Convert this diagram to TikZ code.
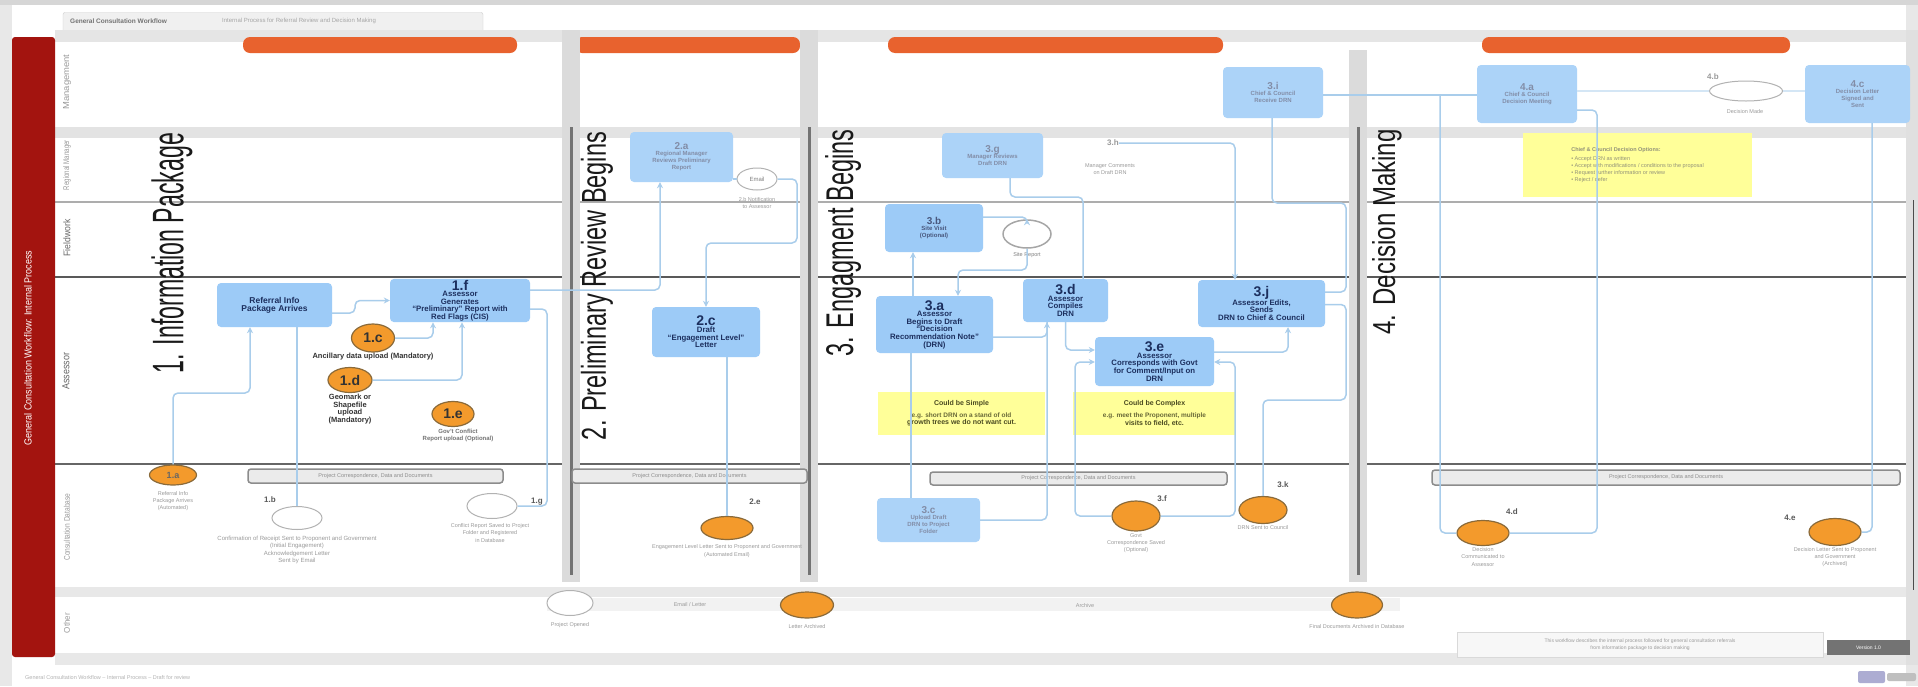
\documentclass[tikz,border=0pt]{standalone}
\usepackage{fontspec}
\setmainfont{Liberation Sans}
\setsansfont{Liberation Sans}
\usepackage{graphicx}
\usetikzlibrary{shapes.geometric,arrows.meta}
\definecolor{boxblue}{HTML}{9DCBF7}
\definecolor{boxtext}{HTML}{1C2F5E}
\definecolor{lineblue}{HTML}{A9CDEB}
\definecolor{orng}{HTML}{F39A2C}
\definecolor{orngdark}{HTML}{8A6A3A}
\definecolor{barorange}{HTML}{E8622E}
\definecolor{note}{HTML}{FFFF99}
\definecolor{notetext}{HTML}{4A4A20}
\definecolor{notebody}{HTML}{6A6A38}
\definecolor{redbar}{HTML}{A3140F}
\definecolor{blur}{HTML}{9A9A9A}
\definecolor{bgc}{HTML}{E8E8E8}
\newcommand{\boxhd}[1]{{\fontsize{14}{14}\selectfont #1}\\[-1pt]}
\newcommand{\boxhs}[1]{{\fontsize{10}{10}\selectfont #1}\\[-1pt]}
\begin{document}
\begin{tikzpicture}[x=1pt,y=-1pt,
  proc/.style={rectangle, rounded corners=4pt, fill=boxblue, text=boxtext, align=center, inner sep=1pt, font=\bfseries\fontsize{7.8}{7.6}\selectfont},
  procb/.style={proc, fill=boxblue!85, text=boxtext!55, font=\bfseries\fontsize{6}{7}\selectfont},
  sz/.style 2 args={minimum width=#1, minimum height=#2},
  oell/.style={ellipse, fill=orng, draw=orngdark, line width=1.2pt, inner sep=0pt, text=black!80, font=\bfseries\fontsize{14}{14}\selectfont},
  well/.style={ellipse, fill=white, draw=black!30, line width=1pt, inner sep=0pt, text=black!50, font=\fontsize{6}{6}\selectfont},
  conn/.style={draw=lineblue, line width=1.5pt, rounded corners=5pt},
  arr/.style={conn, -{Stealth[length=6pt,width=6pt]}},
  lbl/.style={align=center, inner sep=0pt, text=black!80, font=\bfseries\fontsize{7.5}{7.4}\selectfont},
  blurtxt/.style={align=center, inner sep=0pt, text=blur, font=\fontsize{5.5}{7.3}\selectfont},
  sidelbl/.style={inner sep=0pt, text=black!65, font=\bfseries\fontsize{8}{8}\selectfont},
  notebox/.style={rectangle, fill=note, align=center, inner sep=2pt, text=notetext, font=\bfseries\fontsize{7}{7.6}\selectfont},
  pcbar/.style={rectangle, draw=black!45, line width=1.5pt, fill=black!8, rounded corners=3pt, inner sep=0pt, text=black!45, font=\fontsize{5.5}{6}\selectfont},
  ptitle/.style={rotate=90, inner sep=0pt, text=black!90},
  lanelbl/.style={rotate=90, inner sep=0pt, text=black!60}
]
% background and frame
\fill[bgc] (0,0) rectangle (1918,686);
\fill[white] (12,5) rectangle (1906,686);
\fill[black!16] (0,0) rectangle (1918,5);
\useasboundingbox (0,0) rectangle (1918,686);

% header
\node[draw=black!20, fill=black!6, rounded corners=2pt, minimum width=420, minimum height=20, inner sep=0pt] (hdr) at (273,22.5) {};
\node[anchor=west, inner sep=0pt, text=black!55, font=\bfseries\fontsize{6.5}{7}\selectfont] (hdrtxt) at (70,21) {General Consultation Workflow};
\node[anchor=west, inner sep=0pt, text=black!35, font=\fontsize{6}{7}\selectfont] (hdrtxt2) at (222,21) {Internal Process for Referral Review and Decision Making};

% lane bands and lines
\fill[black!10] (55,30) rectangle (1913,42);
\fill[black!11] (55,127) rectangle (1913,138);
\draw[black!32, line width=2.5pt] (55,202) -- (1913,202);
\draw[black!65, line width=1.3pt] (55,277) -- (1913,277);
\draw[black!60, line width=1.3pt] (55,464) -- (1913,464);
\fill[black!9] (55,587) rectangle (1913,597);
\fill[black!5] (547,598) rectangle (1400,611);
\fill[black!9] (55,653) rectangle (1913,665);
\fill[black!12] (1906,30) rectangle (1918,665);
\draw[black!70, line width=1pt] (1913,200) -- (1913,590);

% red bar
\fill[redbar, rounded corners=3pt] (12,37) rectangle (55,657);
\node[rotate=90, inner sep=0pt, text=white] (wf) at (28,348) {\resizebox{195pt}{7.5pt}{General Consultation Workflow: Internal Process}};

% lane labels
\node[lanelbl, text=blur] (ln1) at (67,82) {\resizebox{55pt}{6pt}{Management}};
\node[lanelbl, text=blur] (ln2) at (67,165) {\resizebox{50pt}{6pt}{Regional Manager}};
\node[lanelbl] (ln3) at (67,238) {\resizebox{37pt}{7pt}{Fieldwork}};
\node[lanelbl] (ln4) at (66,371) {\resizebox{37pt}{7pt}{Assessor}};
\node[lanelbl, text=blur] (ln5) at (67,527) {\resizebox{67pt}{6pt}{Consultation Database}};
\node[lanelbl, text=blur] (ln6) at (67,623) {\resizebox{20pt}{6pt}{Other}};

% orange phase bars
\fill[barorange, rounded corners=7pt] (243,37) rectangle (517,53);
\fill[barorange, rounded corners=7pt] (575,37) rectangle (800,53);
\fill[barorange, rounded corners=7pt] (888,37) rectangle (1223,53);
\fill[barorange, rounded corners=7pt] (1482,37) rectangle (1790,53);

% phase separators
\foreach \x/\yt in {571/30, 809/30, 1358/50}{
  \fill[black!14] (\x-9,\yt) rectangle (\x+9,582);
  \draw[black!55, line width=3pt] (\x,127) -- (\x,575);
}

% phase titles
\node[ptitle] (t1) at (172,253) {\resizebox{240pt}{32pt}{1. Information Package}};
\node[ptitle] (t2) at (597,286) {\resizebox{308pt}{25pt}{2. Preliminary Review Begins}};
\node[ptitle] (t3) at (843,243) {\resizebox{227pt}{28pt}{3. Engagment Begins}};
\node[ptitle] (t4) at (1387,232) {\resizebox{205pt}{23pt}{4. Decision Making}};

% project correspondence bars
\node[pcbar, minimum width=255, minimum height=14] (pc1) at (375.5,476) {Project Correspondence, Data and Documents};
\node[pcbar, minimum width=235, minimum height=14] (pc2) at (689.5,476) {Project Correspondence, Data and Documents};
\node[pcbar, minimum width=297, minimum height=13] (pc3) at (1078.5,478.5) {Project Correspondence, Data and Documents};
\node[pcbar, minimum width=468, minimum height=15] (pc4) at (1666,477.5) {Project Correspondence, Data and Documents};

% yellow notes
\node[notebox, sz={167}{43}] (simple) at (961.5,413.5) {Could be Simple\\[4pt]\fontsize{6.5}{7.4}\selectfont\color{notebody}e.g. short DRN on a stand of old\\growth trees we do not want cut.};
\node[notebox, sz={163}{43}] (complex) at (1154.5,413.5) {Could be Complex\\[4pt]\fontsize{6.5}{7.4}\selectfont\color{notebody}e.g. meet the Proponent, multiple\\visits to field, etc.};
\node[notebox, sz={229}{64}, align=left, text=notetext!60, font=\fontsize{5.5}{7.2}\selectfont] (note4) at (1637.5,165) {\textbf{Chief \& Council Decision Options:}\\[2pt]\textbullet\ Accept DRN as written\\\textbullet\ Accept with modifications / conditions to the proposal\\\textbullet\ Request further information or review\\\textbullet\ Reject / defer};

% ---- phase 1 nodes
\node[proc, sz={115}{44}, font=\bfseries\fontsize{8.5}{8}\selectfont] (ref) at (274.5,305) {Referral Info\\Package Arrives};
\node[proc, sz={140}{43}] (f1) at (460,300.5) {\boxhd{1.f}Assessor\\Generates\\“Preliminary” Report with\\Red Flags (CIS)};
\node[oell, minimum width=43, minimum height=28] (e1c) at (373,338) {1.c};
\node[lbl] (t1c) at (373,357) {Ancillary data upload (Mandatory)};
\node[oell, minimum width=44, minimum height=25] (e1d) at (350,380) {1.d};
\node[lbl] (t1d) at (350,409) {Geomark or\\Shapefile\\upload\\(Mandatory)};
\node[oell, minimum width=42, minimum height=25] (e1e) at (453,414) {1.e};
\node[lbl, text=black!55, font=\bfseries\fontsize{6}{7}\selectfont] (t1e) at (458,435.5) {Gov't Conflict\\Report upload (Optional)};
\node[oell, minimum width=47, minimum height=20, font=\bfseries\fontsize{9}{9}\selectfont, text=black!60] (e1a) at (173,475) {1.a};
\node[blurtxt] (t1a) at (173,501) {Referral Info\\Package Arrives\\(Automated)};
\node[well, minimum width=50, minimum height=23] (e1b) at (297,518) {};
\node[sidelbl] (l1b) at (270,500) {1.b};
\node[blurtxt, font=\fontsize{6}{7.3}\selectfont] (t1b) at (297,550) {Confirmation of Receipt Sent to Proponent and Government\\(Initial Engagement)\\Acknowledgement Letter\\Sent by Email};
\node[well, minimum width=50, minimum height=25] (e1g) at (492,506) {};
\node[sidelbl] (l1g) at (537,502) {1.g};
\node[blurtxt] (t1g) at (490,533) {Conflict Report Saved to Project\\Folder and Registered\\in Database};

% ---- phase 2 nodes
\node[procb, sz={103}{50}] (a2) at (681.5,157) {\boxhs{2.a}Regional Manager\\Reviews Preliminary\\Report};
\node[well, minimum width=40, minimum height=22] (email) at (757,179) {Email};
\node[blurtxt] (temail) at (757,203) {2.b Notification\\to Assessor};
\node[proc, sz={108}{50}] (c2) at (706,332) {\boxhd{2.c}Draft\\“Engagement Level”\\Letter};
\node[oell, minimum width=52, minimum height=23] (e2e) at (727,528) {};
\node[sidelbl] (l2e) at (755,502) {2.e};
\node[blurtxt] (t2e) at (727,551) {Engagement Level Letter Sent to Proponent and Government\\(Automated Email)};

% ---- phase 3 nodes
\node[procb, sz={98}{48}, fill=boxblue, text=boxtext!80] (b3) at (934,228) {\boxhs{3.b}Site Visit\\(Optional)};
\node[well, draw=black!35, line width=1.5pt, minimum width=48, minimum height=28] (sr) at (1027,234) {};
\node[blurtxt, text=black!50] (tsr) at (1027,255) {Site Report};
\node[proc, sz={117}{57}] (a3) at (934.5,324.5) {\boxhd{3.a}Assessor\\Begins to Draft\\“Decision\\Recommendation Note”\\(DRN)};
\node[proc, sz={85}{43}] (d3) at (1065.5,300.5) {\boxhd{3.d}Assessor\\Compiles\\DRN};
\node[proc, sz={119}{49}] (e3) at (1154.5,361.5) {\boxhd{3.e}Assessor\\Corresponds with Govt\\for Comment/Input on\\DRN};
\node[proc, sz={127}{47}] (j3) at (1261.5,303.5) {\boxhd{3.j}Assessor Edits,\\Sends\\DRN to Chief \& Council};
\node[procb, sz={103}{44}] (c3) at (928.5,520) {\boxhs{3.c}Upload Draft\\DRN to Project\\Folder};
\node[procb, sz={101}{45}] (g3) at (992.5,155.5) {\boxhs{3.g}Manager Reviews\\Draft DRN};
\node[sidelbl, text=blur] (h3) at (1113,143) {3.h};
\node[blurtxt] (th3) at (1110,169) {Manager Comments\\on Draft DRN};
\node[procb, sz={100}{51}] (i3) at (1273,92.5) {\boxhs{3.i}Chief \& Council\\Receive DRN};
\node[oell, minimum width=48, minimum height=30] (e3f) at (1136,516) {};
\node[sidelbl] (l3f) at (1162,499) {3.f};
\node[blurtxt] (t3f) at (1136,543) {Govt\\Correspondence Saved\\(Optional)};
\node[oell, minimum width=48, minimum height=27] (e3k) at (1263,510) {};
\node[sidelbl] (l3k) at (1283,485) {3.k};
\node[blurtxt] (t3k) at (1263,528) {DRN Sent to Council};

% ---- phase 4 nodes
\node[procb, sz={100}{58}] (a4) at (1527,94) {\boxhs{4.a}Chief \& Council\\Decision Meeting};
\node[well, minimum width=73, minimum height=20] (l4ell) at (1746,91) {};
\node[sidelbl, text=blur] (l4b) at (1713,77) {4.b};
\node[blurtxt] (t4b) at (1745,112) {Decision Made};
\node[procb, sz={105}{58}] (c4) at (1857.5,94) {\boxhs{4.c}Decision Letter\\Signed and\\Sent};
\node[oell, minimum width=52, minimum height=25] (e4d) at (1483,533) {};
\node[sidelbl] (l4d) at (1512,512) {4.d};
\node[blurtxt] (t4d) at (1483,557) {Decision\\Communicated to\\Assessor};
\node[oell, minimum width=52, minimum height=27] (e4e) at (1835,532) {};
\node[sidelbl] (l4e) at (1790,518) {4.e};
\node[blurtxt] (t4e) at (1835,557) {Decision Letter Sent to Proponent\\and Government\\(Archived)};

% ---- bottom lane
\node[well, minimum width=46, minimum height=25] (wb) at (570,603) {};
\node[blurtxt] (twb) at (570,625) {Project Opened};
\node[blurtxt] (mid1) at (690,605) {Email / Letter};
\node[oell, minimum width=53, minimum height=26] (ob2) at (807,605) {};
\node[blurtxt] (tob2) at (807,627) {Letter Archived};
\node[blurtxt] (mid2) at (1085,606) {Archive};
\node[oell, minimum width=51, minimum height=26] (ob3) at (1357,605) {};
\node[blurtxt] (tob3) at (1357,627) {Final Documents Archived in Database};

% footer
\node[draw=black!15, fill=black!3, minimum width=366, minimum height=25, inner sep=0pt, align=center, text=blur, font=\fontsize{5}{6.5}\selectfont] (foot) at (1640,644.5) {This workflow describes the internal process followed for general consultation referrals\\from information package to decision making};
\node[fill=black!55, minimum width=83, minimum height=15, inner sep=0pt, text=white!80, font=\fontsize{5}{6}\selectfont] (footdark) at (1868.5,647.5) {Version 1.0};
\node[anchor=west, inner sep=0pt, text=black!30, font=\fontsize{5.5}{6}\selectfont] (src) at (25,678) {General Consultation Workflow -- Internal Process -- Draft for review};
\fill[blue!30!gray!50, rounded corners=2pt] (1858,671) rectangle (1885,683);
\fill[black!25, rounded corners=2pt] (1887,673) rectangle (1916,681);

% ---- connectors phase 1
\draw[arr] (e1a.north) -- (173,393) -- (250,393) -- ([xshift=-24.5pt]ref.south);
\draw[arr] ([yshift=-8pt]ref.east) -- (355,313) -- (355,300.5) -- (f1.west);
\draw[arr] (e1c.east) -| ([xshift=-27pt]f1.south);
\draw[arr] (e1d.east) -| ([xshift=2pt]f1.south);
\draw[conn] ([xshift=22.5pt]ref.south) -- (e1b.north);
\draw[arr] ([yshift=10.5pt]f1.east) -| ([xshift=-21.5pt]a2.south);
\draw[conn] ([yshift=-8.5pt]f1.east) -- (547,309) |- (e1g.east);

% ---- connectors phase 2
\draw[conn] (a2.east |- email.west) -- (email.west);
\draw[arr] (email.east) -- (797,179) -- (797,243) -- (706,243) -- (c2.north);
\draw[conn] ([xshift=21pt]c2.south) -- (e2e.north);

% ---- connectors phase 3
\draw[conn] ([xshift=-23.5pt]a3.south) -- ([xshift=-17.5pt]c3.north);
\draw[arr] ([xshift=-21.5pt]a3.north) -- ([xshift=-21pt]b3.south);
\draw[arr] ([yshift=11pt]b3.east) -| (sr.north);
\draw[arr] (sr.south) -- (1027,270) -- (958,270) -- ([xshift=23.5pt]a3.north);
\draw[arr] ([yshift=-12.5pt]a3.east) -| ([xshift=-18.5pt]d3.south);
\draw[conn] (c3.east) -| ([xshift=-18.5pt]d3.south);
\draw[arr] (d3.south) |- ([yshift=11.5pt]e3.west);
\draw[conn] ([xshift=17.5pt]d3.north) |- (1010,197) -- ([xshift=17.5pt]g3.south);
\draw[arr] ([yshift=9.5pt]e3.east) -| ([xshift=26.5pt]j3.south);
\draw[arr] (e3f.west) -- (1075,516) -- (1075,362) -- ([yshift=-0.5pt]e3.west);
\draw[arr] (e3f.east) -- (1235,516) -- (1235,362) -- ([yshift=-0.5pt]e3.east);
\draw[conn] ([yshift=11.5pt]j3.east) -- (1346,292) -- (1346,203) -- (1272,203) -- ([xshift=-1pt]i3.south);
\draw[conn] ([yshift=-1pt]j3.east) -- (1346,304.5) -- (1346,400) -- (1263,400) -- (e3k.north);
\draw[arr] (h3.east) -- (1235,143) -- ([xshift=-26.5pt]j3.north);

% ---- connectors phase 4
\draw[conn] ([yshift=-2.5pt]i3.east) -- ([yshift=-1pt]a4.west);
\coordinate (j24) at (1440,95);
\draw[conn] (e4d.west) -- (1440,533) -- (j24);
\draw[conn] (e4d.east) -- (1597,533) -- (1597,110) -- ([yshift=-16pt]a4.east);
\draw[conn] ([xshift=14.5pt]c4.south) |- (e4e.east);
\draw[conn, draw=lineblue!50] ([yshift=3pt]a4.east) -- (l4ell.west);
\draw[conn, draw=lineblue!50] (l4ell.east) -- ([yshift=3pt]c4.west);
\end{tikzpicture}
\end{document}
